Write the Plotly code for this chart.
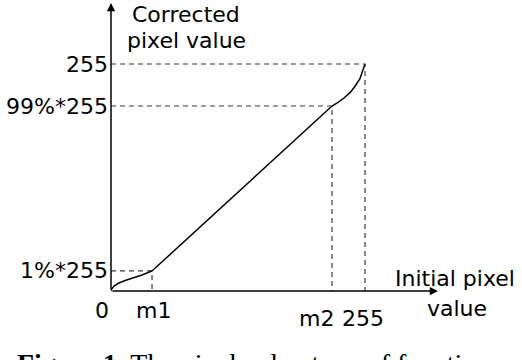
import plotly.graph_objects as go

# Schematic transfer function
# x in "initial pixel value" units, y in "corrected pixel value" units
x_tick_vals = [0, 41.2, 221.9, 255]
x_tick_text = ["0", "m1", "m2", "255"]
y_level_vals = [22.5, 207.8, 255]
y_level_text = ["1%*255", "99%*255", "255"]

# points where the guide lines meet the curve
knee_x = [41.2, 221.9, 255]
knee_y = [22.5, 207.8, 255]

# the transfer curve: low bend, straight part, high bend
curve_x = [0, 1.0, 3.0, 7.0, 14.1, 22.1, 31.1, 41.2,
           221.9, 227.9, 233.9, 239.9, 245.0, 249.8, 252.0, 255]
curve_y = [0, 2.8, 5.6, 8.4, 11.8, 14.6, 18.0, 22.5,
           207.8, 212.0, 216.8, 222.8, 230.0, 238.2, 246.0, 255]

x_arrow_tip = 328.3
y_arrow_tip = 323.5

font = "DejaVu Sans, sans-serif"
fsize = 22

fig = go.Figure()

# dashed guides from both axes to the knees
gx, gy = [], []
for kx, ky in zip(knee_x, knee_y):
    gx += [0, kx, kx, None]
    gy += [ky, ky, 0, None]
fig.add_trace(go.Scatter(x=gx, y=gy, mode="lines",
                         line=dict(color="#3a3a3a", width=1.2, dash="5px,4px"),
                         hoverinfo="skip"))

fig.add_trace(go.Scatter(x=curve_x, y=curve_y, mode="lines",
                         line=dict(color="black", width=1.5),
                         hoverinfo="skip"))

ann = []
# axes with arrow heads
for tip_x, tip_y in [(0, y_arrow_tip), (x_arrow_tip, 0)]:
    ann.append(dict(x=tip_x, y=tip_y, ax=0, ay=0, xref="x", yref="y",
                    axref="x", ayref="y", text="", showarrow=True,
                    arrowhead=2, arrowsize=1.1, arrowwidth=1.5, arrowcolor="black",
                    standoff=0, startstandoff=0))

# y labels
for v, t in zip(y_level_vals, y_level_text):
    ann.append(dict(x=0, y=v, xref="x", yref="y", text=t, showarrow=False,
                    xanchor="right", yanchor="middle", xshift=-1,
                    font=dict(family=font, size=fsize, color="black")))

# x labels (m2 and 255 sit a bit lower)
x_shifts = [-9, 1, -16, -2]
y_shifts = [-19, -19, -27, -27]
for v, t, dx, dy in zip(x_tick_vals, x_tick_text, x_shifts, y_shifts):
    ann.append(dict(x=v, y=0, xref="x", yref="y", text=t, showarrow=False,
                    xanchor="center", yanchor="middle", xshift=dx, yshift=dy,
                    font=dict(family=font, size=fsize, color="black")))

# axis titles, one annotation per line
for t, dx, dy in [("Corrected", 75, -11), ("pixel value", 75, -37)]:
    ann.append(dict(x=0, y=y_arrow_tip, xref="x", yref="y", text=t,
                    showarrow=False, xanchor="center", yanchor="middle",
                    xshift=dx, yshift=dy,
                    font=dict(family=font, size=fsize, color="black")))
for t, dx, dy in [("Initial pixel", 17, 13), ("value", 19, -17)]:
    ann.append(dict(x=x_arrow_tip, y=0, xref="x", yref="y", text=t,
                    showarrow=False, xanchor="center", yanchor="middle",
                    xshift=dx, yshift=dy,
                    font=dict(family=font, size=fsize, color="black")))

# caption, mostly cut off at the bottom edge (anchored at the plot bottom, shifted down)
ann.append(dict(x=-0.2336, y=0, xref="paper", yref="paper",
                text="<b>Figure 1.</b> The pixel value type of function",
                showarrow=False, xanchor="left", yanchor="top", yshift=-55,
                font=dict(family="Liberation Serif, serif", size=28, color="black")))

fig.update_layout(
    width=522, height=360,
    margin=dict(l=111, r=0, t=0, b=69),
    plot_bgcolor="white", paper_bgcolor="white",
    showlegend=False,
    annotations=ann,
    xaxis=dict(range=[0, 412.6], visible=False, fixedrange=True),
    yaxis=dict(range=[0, 326.9], visible=False, fixedrange=True),
)

# drop the page's default body margin so the figure sits at the top-left corner
fig.write_html("out.html", config={"displayModeBar": False},
               post_script="document.body.style.margin='0';")
